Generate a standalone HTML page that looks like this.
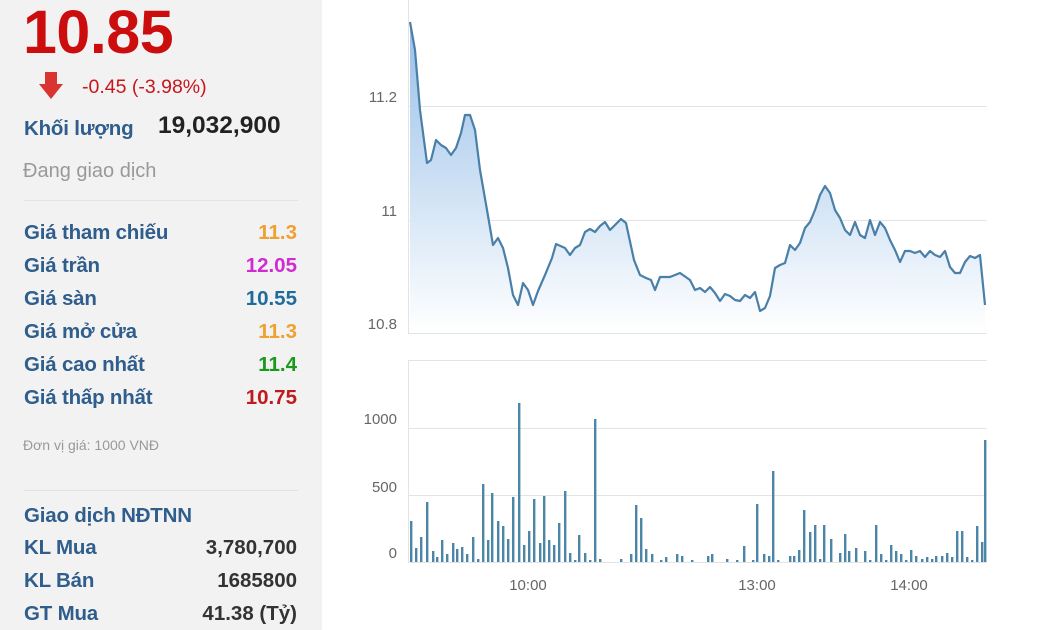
<!DOCTYPE html>
<html><head><meta charset="utf-8"><style>
body{margin:0;width:1050px;height:630px;overflow:hidden;background:#fff;font-family:"Liberation Sans",Arial,sans-serif;position:relative}
#left{position:absolute;left:0;top:0;width:322px;height:630px;background:#f2f2f2}
.t{position:absolute;white-space:nowrap}
.lab{left:24px;font-size:20.5px;color:#2f5d8c;font-weight:bold;letter-spacing:-0.2px}
.val{right:25px;font-size:20.5px;font-weight:bold;text-align:right}
.hr{position:absolute;left:24px;width:274px;height:1px;background:#e2e2e2}
</style></head><body>
<div id="left">
<div class="t" style="left:23px;top:-3px;font-size:61px;font-weight:bold;color:#cc0d0d;letter-spacing:-0.5px">10.85</div>
<svg class="t" style="left:38px;top:72px" width="26" height="28"><polygon points="7,0 19,0 19,12 25,12 13,27 1,12 7,12" fill="#d9342f"/></svg>
<div class="t" style="left:82px;top:76px;font-size:19.5px;color:#c8161d">-0.45 (-3.98%)</div>
<div class="t lab" style="top:117px;font-size:20.5px">Khối lượng</div>
<div class="t" style="left:158px;top:112px;font-size:24.5px;font-weight:bold;color:#222">19,032,900</div>
<div class="t" style="left:23px;top:160px;font-size:20px;color:#999">Đang giao dịch</div>
<div class="hr" style="top:200px"></div>
<div class="t lab" style="top:221px">Giá tham chiếu</div><div class="t val" style="top:221px;color:#f0a030">11.3</div>
<div class="t lab" style="top:254px">Giá trần</div><div class="t val" style="top:254px;color:#d22ad2">12.05</div>
<div class="t lab" style="top:287px">Giá sàn</div><div class="t val" style="top:287px;color:#1f6b9c">10.55</div>
<div class="t lab" style="top:320px">Giá mở cửa</div><div class="t val" style="top:320px;color:#f0a030">11.3</div>
<div class="t lab" style="top:353px">Giá cao nhất</div><div class="t val" style="top:353px;color:#1a9a1a">11.4</div>
<div class="t lab" style="top:386px">Giá thấp nhất</div><div class="t val" style="top:386px;color:#c01a1a">10.75</div>
<div class="t" style="left:23px;top:437px;font-size:14px;color:#999">Đơn vị giá: 1000 VNĐ</div>
<div class="hr" style="top:490px"></div>
<div class="t lab" style="top:504px">Giao dịch NĐTNN</div>
<div class="t lab" style="top:536px">KL Mua</div><div class="t val" style="top:536px;color:#333">3,780,700</div>
<div class="t lab" style="top:569px">KL Bán</div><div class="t val" style="top:569px;color:#333">1685800</div>
<div class="t lab" style="top:602px">GT Mua</div><div class="t val" style="top:602px;color:#333">41.38 (Tỷ)</div>
</div>
<svg class="t" style="left:0;top:0" width="1050" height="630" font-family="Liberation Sans, Arial, sans-serif">
<defs><linearGradient id="g" x1="0" y1="0" x2="0" y2="1"><stop offset="0" stop-color="#98bfe8"/><stop offset="1" stop-color="#ffffff"/></linearGradient></defs>
<g stroke="#e3e3e3" stroke-width="1">
<line x1="408" y1="106.5" x2="987" y2="106.5"/><line x1="408" y1="220.5" x2="987" y2="220.5"/><line x1="408" y1="333.5" x2="987" y2="333.5"/>
<line x1="408.5" y1="0" x2="408.5" y2="333"/>
<line x1="408" y1="360.5" x2="987" y2="360.5"/><line x1="408" y1="428.5" x2="987" y2="428.5"/><line x1="408" y1="495.5" x2="987" y2="495.5"/><line x1="408" y1="562.5" x2="987" y2="562.5"/>
<line x1="408.5" y1="360" x2="408.5" y2="562"/>
</g>
<g fill="#666" font-size="15" text-anchor="end">
<text x="397" y="102">11.2</text><text x="397" y="216">11</text><text x="397" y="329">10.8</text>
<text x="397" y="424">1000</text><text x="397" y="492">500</text><text x="397" y="558">0</text>
</g>
<g fill="#666" font-size="15" text-anchor="middle"><text x="528" y="590">10:00</text><text x="757" y="590">13:00</text><text x="909" y="590">14:00</text></g>
<polygon fill="url(#g)" points="410,333 410,22 415,50 420,110 427,163 431,160 436,140 441,145 446,148 451,155 456,148 461,133 465,115 470,115 475,130 480,170 487,210 493,245 498,238 503,248 508,268 513,295 518,305 523,283 528,290 533,305 538,291 545,275 552,258 556,244 565,248 570,255 575,248 580,245 585,232 590,229 595,232 600,226 605,222 610,230 615,225 621,219 626,223 634,260 640,275 646,278 651,280 655,290 660,277 670,277 680,273 690,280 695,290 700,288 705,292 710,287 715,293 720,301 725,294 730,296 735,300 740,301 745,295 750,298 755,292 760,311 765,308 770,296 775,268 780,265 785,263 790,245 795,250 800,243 805,228 810,222 815,210 820,195 825,186 830,193 835,210 840,218 845,230 850,235 855,222 860,235 865,238 870,220 875,235 880,222 885,228 890,240 895,250 900,262 905,251 910,251 915,253 920,251 925,257 930,251 935,255 940,257 945,251 950,267 955,273 960,273 965,262 970,256 975,258 980,255 985,305 985,333"/>
<polyline fill="none" stroke="#4a7fa8" stroke-width="2.2" stroke-linejoin="round" points="410,22 415,50 420,110 427,163 431,160 436,140 441,145 446,148 451,155 456,148 461,133 465,115 470,115 475,130 480,170 487,210 493,245 498,238 503,248 508,268 513,295 518,305 523,283 528,290 533,305 538,291 545,275 552,258 556,244 565,248 570,255 575,248 580,245 585,232 590,229 595,232 600,226 605,222 610,230 615,225 621,219 626,223 634,260 640,275 646,278 651,280 655,290 660,277 670,277 680,273 690,280 695,290 700,288 705,292 710,287 715,293 720,301 725,294 730,296 735,300 740,301 745,295 750,298 755,292 760,311 765,308 770,296 775,268 780,265 785,263 790,245 795,250 800,243 805,228 810,222 815,210 820,195 825,186 830,193 835,210 840,218 845,230 850,235 855,222 860,235 865,238 870,220 875,235 880,222 885,228 890,240 895,250 900,262 905,251 910,251 915,253 920,251 925,257 930,251 935,255 940,257 945,251 950,267 955,273 960,273 965,262 970,256 975,258 980,255 985,305"/>
<g id="bars" fill="#4b86a6"></g>
</svg>
<script>
var d=[[411,41],[416,14],[421,25],[427,60],[433,11],[437,5],[442,22],[447,8],[453,19],[457,13],[462,15],[467,8],[473,25],[478,3],[483,78],[488,22],[492,69],[498,41],[503,36],[508,23],[513,65],[519,159],[524,17],[529,31],[534,63],[540,19],[544,66],[549,22],[554,17],[559,39],[565,71],[570,9],[575,2],[579,27],[585,9],[590,2],[595,143],[600,3],[621,3],[631,8],[636,57],[641,44],[646,13],[652,8],[661,2],[666,5],[677,8],[682,6],[692,2],[708,6],[712,8],[727,3],[737,2],[744,16],[753,2],[757,58],[764,8],[769,6],[773,91],[778,2],[790,6],[794,6],[799,12],[804,52],[810,30],[815,37],[820,3],[824,37],[831,23],[840,9],[845,28],[849,11],[856,14],[865,11],[870,2],[876,37],[881,8],[886,2],[891,17],[896,11],[901,8],[906,2],[911,12],[916,6],[922,3],[927,5],[932,3],[936,6],[942,6],[947,9],[952,5],[957,31],[962,31],[967,5],[972,2],[977,36],[982,20],[985,122]];
var g=document.getElementById('bars'),s='';
d.forEach(function(b){s+='<rect x="'+(b[0]-1)+'" y="'+(562-b[1])+'" width="2.4" height="'+b[1]+'"/>';});
g.innerHTML=s;
</script>
</body></html>
